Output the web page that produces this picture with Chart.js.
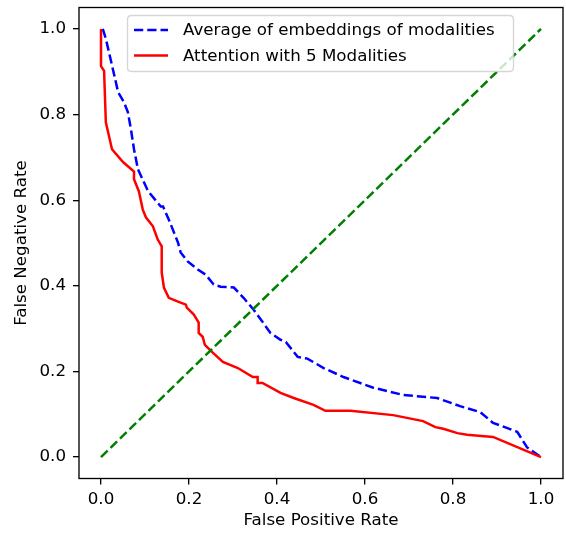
<!DOCTYPE html>
<html>
<head>
<meta charset="utf-8">
<script src="https://cdn.jsdelivr.net/npm/chart.js@4/dist/chart.umd.min.js"></script>
<style>
html,body{margin:0;padding:0;background:#fff;}
canvas{display:block;}
</style>
</head>
<body>
<canvas id="c" width="566" height="533"></canvas>
<script>
// ---- data ----
const tickValues = [0.0, 0.2, 0.4, 0.6, 0.8, 1.0];

const avgLabel = "Average of embeddings of modalities";
const avgFPR = [0.004, 0.011, 0.018, 0.027, 0.039, 0.052, 0.061, 0.068, 0.075, 0.084, 0.107, 0.136, 0.141, 0.154, 0.175, 0.181, 0.197, 0.220, 0.238, 0.256, 0.272, 0.302, 0.324, 0.347, 0.367, 0.385, 0.408, 0.420, 0.447, 0.469, 0.506, 0.551, 0.619, 0.687, 0.764, 0.816, 0.862, 0.891, 0.946, 0.968, 1.0];
const avgFNR = [1.0, 0.977, 0.946, 0.906, 0.852, 0.829, 0.806, 0.766, 0.719, 0.672, 0.621, 0.585, 0.585, 0.555, 0.501, 0.478, 0.457, 0.438, 0.426, 0.403, 0.398, 0.396, 0.372, 0.344, 0.316, 0.290, 0.274, 0.269, 0.234, 0.230, 0.208, 0.187, 0.162, 0.145, 0.138, 0.119, 0.105, 0.080, 0.059, 0.023, 0.0];

const attnLabel = "Attention with 5 Modalities";
const attnFPR = [0.0, 0.0, 0.007, 0.011, 0.025, 0.05, 0.075, 0.075, 0.086, 0.095, 0.102, 0.118, 0.129, 0.138, 0.138, 0.143, 0.154, 0.175, 0.193, 0.195, 0.211, 0.222, 0.222, 0.231, 0.236, 0.254, 0.277, 0.311, 0.345, 0.356, 0.356, 0.367, 0.408, 0.438, 0.483, 0.510, 0.567, 0.664, 0.732, 0.760, 0.778, 0.810, 0.832, 0.891, 1.0];
const attnFNR = [1.0, 0.913, 0.902, 0.782, 0.719, 0.689, 0.667, 0.649, 0.621, 0.578, 0.560, 0.539, 0.508, 0.492, 0.431, 0.396, 0.372, 0.363, 0.356, 0.349, 0.333, 0.314, 0.290, 0.281, 0.262, 0.244, 0.222, 0.208, 0.187, 0.187, 0.173, 0.173, 0.150, 0.138, 0.122, 0.108, 0.108, 0.098, 0.084, 0.070, 0.066, 0.056, 0.052, 0.047, 0.0];

const diagX = [0, 1];
const diagY = [0, 1];

const xTitle = "False Positive Rate";
const yTitle = "False Negative Rate";

// ---- chart ----
const toPts = (xs, ys) => xs.map((x, i) => ({x: x, y: ys[i]}));
const FONT = "'DejaVu Sans', sans-serif";
const FS = 16.7;

const spinePlugin = {
  id: 'spines',
  afterDatasetsDraw(chart) {
    const {ctx, chartArea: a} = chart;
    ctx.save();
    ctx.strokeStyle = '#000';
    ctx.lineWidth = 1.33;
    ctx.strokeRect(a.left, a.top, a.right - a.left, a.bottom - a.top);
    ctx.restore();
  }
};

const legendPlugin = {
  id: 'mplLegend',
  afterDraw(chart) {
    const ctx = chart.ctx;
    const items = chart.data.datasets.filter(d => d.showInLegend);
    const x0 = 127.5, y0 = 15.5, w = 386, h = 56, r = 4;
    ctx.save();
    ctx.beginPath();
    ctx.moveTo(x0 + r, y0);
    ctx.lineTo(x0 + w - r, y0);
    ctx.quadraticCurveTo(x0 + w, y0, x0 + w, y0 + r);
    ctx.lineTo(x0 + w, y0 + h - r);
    ctx.quadraticCurveTo(x0 + w, y0 + h, x0 + w - r, y0 + h);
    ctx.lineTo(x0 + r, y0 + h);
    ctx.quadraticCurveTo(x0, y0 + h, x0, y0 + h - r);
    ctx.lineTo(x0, y0 + r);
    ctx.quadraticCurveTo(x0, y0, x0 + r, y0);
    ctx.closePath();
    ctx.fillStyle = 'rgba(255,255,255,0.8)';
    ctx.fill();
    ctx.strokeStyle = 'rgba(204,204,204,0.8)';
    ctx.lineWidth = 1.33;
    ctx.stroke();
    items.forEach((d, i) => {
      const cy = 30 + i * 25.5;
      ctx.beginPath();
      ctx.setLineDash(d.borderDash || []);
      ctx.strokeStyle = d.borderColor;
      ctx.lineWidth = d.borderWidth;
      ctx.moveTo(134, cy);
      ctx.lineTo(168, cy);
      ctx.stroke();
      ctx.setLineDash([]);
      ctx.fillStyle = '#000';
      ctx.font = FS + "px " + FONT;
      ctx.textBaseline = 'middle';
      ctx.textAlign = 'left';
      ctx.fillText(d.label, 183, cy + 1);
    });
    ctx.restore();
  }
};

const axisCommon = {
  type: 'linear',
  min: -0.05,
  max: 1.05,
  afterBuildTicks: s => { s.ticks = tickValues.map(v => ({value: v})); },
  grid: { display: true, drawOnChartArea: false, drawTicks: true, tickLength: 6, color: '#000', lineWidth: 1.33 },
  border: { display: false },
};

new Chart(document.getElementById('c'), {
  type: 'scatter',
  data: {
    datasets: [
      { label: avgLabel, showInLegend: true, data: toPts(avgFPR, avgFNR), showLine: true, borderColor: '#0000ff', borderWidth: 2.5, borderDash: [9.25, 4], pointRadius: 0, fill: false, order: 3 },
      { label: attnLabel, showInLegend: true, data: toPts(attnFPR, attnFNR), showLine: true, borderColor: '#ff0000', borderWidth: 2.5, pointRadius: 0, fill: false, order: 2 },
      { label: 'diag', showInLegend: false, data: toPts(diagX, diagY), showLine: true, borderColor: '#008000', borderWidth: 2.5, borderDash: [9.25, 4], pointRadius: 0, fill: false, order: 1 }
    ]
  },
  options: {
    responsive: false,
    animation: false,
    devicePixelRatio: 1,
    layout: { padding: { top: 7.5, right: 3, left: 0, bottom: 0 } },
    plugins: { legend: { display: false }, tooltip: { enabled: false } },
    elements: { line: { tension: 0 } },
    scales: {
      x: Object.assign({}, axisCommon, {
        position: 'bottom',
        afterFit: s => { s.height = 533 - 478.5; s.paddingLeft = 0; s.paddingRight = 0; },
        ticks: { color: '#000', font: { family: FONT, size: FS }, padding: 5, maxRotation: 0, callback: v => Number(v).toFixed(1) },
        title: { display: true, text: xTitle, color: '#000', font: { family: FONT, size: FS }, padding: { top: 0, bottom: 2 } }
      }),
      y: Object.assign({}, axisCommon, {
        position: 'left',
        afterFit: s => { s.width = 79; s.paddingTop = 0; s.paddingBottom = 0; },
        ticks: { color: '#000', font: { family: FONT, size: FS }, padding: 7, callback: v => Number(v).toFixed(1) },
        title: { display: true, text: yTitle, color: '#000', font: { family: FONT, size: FS }, padding: { top: 12, bottom: 0 } }
      })
    }
  },
  plugins: [spinePlugin, legendPlugin]
});
</script>
</body>
</html>
